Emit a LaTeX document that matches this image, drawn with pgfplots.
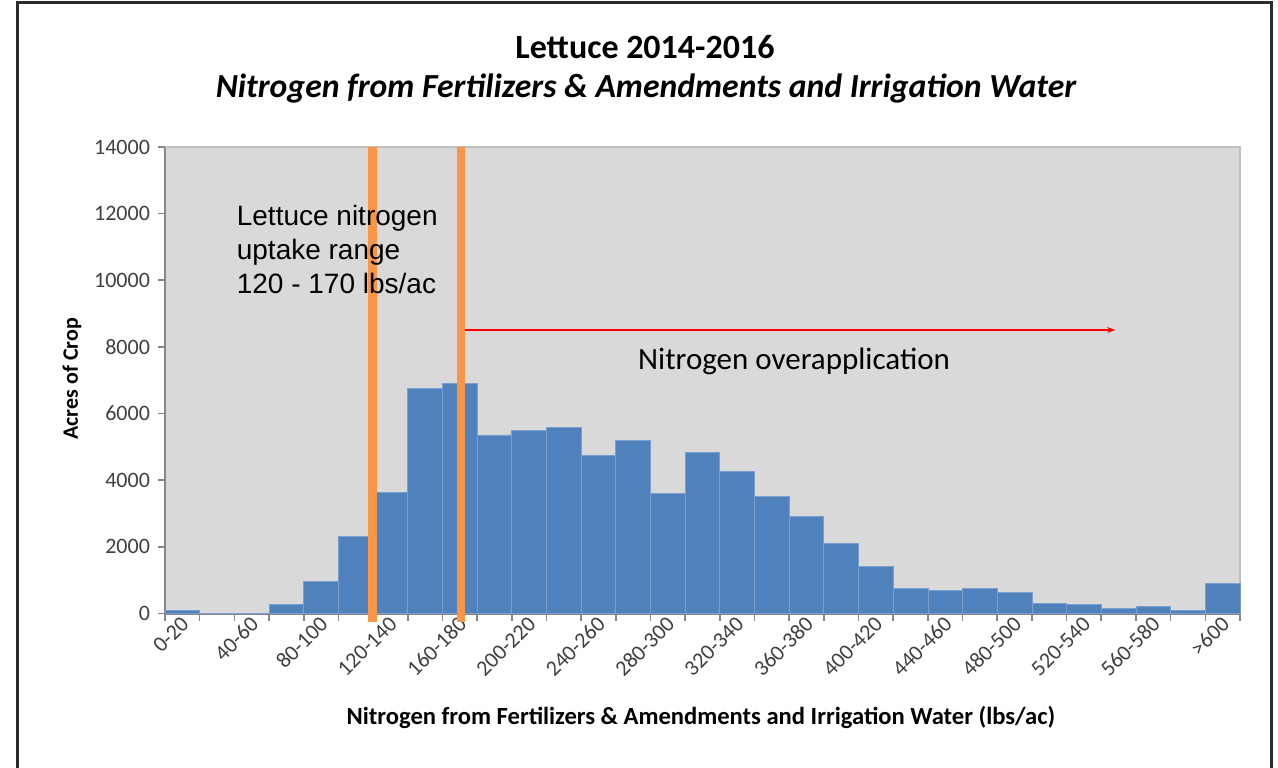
\documentclass[border=0pt]{standalone}
\usepackage{pgfplots}
\pgfplotsset{compat=1.18}
\usepackage{pgfplotstable}
\usetikzlibrary{arrows.meta}
\usepackage{fontspec}
\setmainfont{Carlito}
\newfontfamily\arialfont{Liberation Sans}
\definecolor{barblue}{HTML}{4F81BD}
\definecolor{baredge}{HTML}{7A9FCF}
\definecolor{plotbg}{HTML}{D9D9D9}
\definecolor{plotborder}{HTML}{BFBFBF}
\definecolor{lineorange}{HTML}{F79646}
\definecolor{axisgray}{HTML}{868686}
\definecolor{ticktext}{HTML}{404040}
\definecolor{framegray}{HTML}{2B2B2B}

\pgfplotstableread{
x y
0 90
1 0
2 0
3 260
4 960
5 2325
6 3640
7 6760
8 6900
9 5360
10 5500
11 5580
12 4750
13 5190
14 3600
15 4840
16 4270
17 3510
18 2900
19 2100
20 1405
21 750
22 690
23 750
24 630
25 300
26 270
27 160
28 210
29 90
30 910
}\datatable

\begin{document}
\begin{tikzpicture}
\useasboundingbox (0,0) rectangle (639pt,383.5pt);
\fill[white] (0,0) rectangle (639pt,383.5pt);
\draw[framegray, line width=1.5pt] (8.5pt,-3pt) -- (8.5pt,382pt) -- (635.5pt,382pt) -- (635.5pt,-3pt);
\node[font=\fontsize{17}{20}\selectfont\bfseries] at (322.5pt,360pt) {Lettuce 2014-2016};
\node[font=\fontsize{16.85}{20}\selectfont\bfseries\itshape] at (323pt,339pt) {Nitrogen from Fertilizers \& Amendments and Irrigation Water};
\begin{axis}[
  at={(82.5pt,76.75pt)}, anchor=south west,
  scale only axis, width=537.5pt, height=233.25pt,
  xmin=-0.5, xmax=30.5, ymin=0, ymax=14000,
  clip=false,
  axis background/.style={fill=plotbg},
  axis x line*=bottom, axis y line*=left,
  axis line style={axisgray, line width=1pt},
  tick align=outside,
  tick style={axisgray, line width=0.8pt},
  major tick length=3.5pt, minor tick length=3.5pt,
  ytick={0,2000,...,14000},
  scaled y ticks=false,
  /pgf/number format/1000 sep={},
  /pgf/number format/assume math mode=true,
  yticklabel style={font=\fontsize{11}{13}\selectfont, color=ticktext, xshift=-0.5pt},
  xtick={0,2,...,30},
  xticklabels={0-20,40-60,80-100,120-140,160-180,200-220,240-260,280-300,320-340,360-380,400-420,440-460,480-500,520-540,560-580,>600},
  major x tick style={draw=none},
  minor xtick={-0.5,0.5,...,30.5},
  xticklabel style={rotate=45, anchor=east, font=\fontsize{11}{13}\selectfont, color=ticktext, xshift=4.5pt, yshift=-1pt},
  xlabel={Nitrogen from Fertilizers \& Amendments and Irrigation Water (lbs/ac)},
  xlabel style={at={(axis description cs:0.4986,-0.222)}, anchor=center, font=\fontsize{12.3}{14}\selectfont\bfseries},
  ylabel={Acres of Crop},
  ylabel style={at={(axis description cs:-0.0865,0.503)}, anchor=center, font=\fontsize{11}{13}\selectfont\bfseries},
]
\draw[plotborder, line width=1pt] (rel axis cs:0,1) -- (rel axis cs:1,1) -- (rel axis cs:1,0);
\addplot[ybar, bar width=1, fill=barblue, draw=baredge, line width=0.4pt] table[x=x,y=y]{\datatable};
\addplot[lineorange, line width=4.3pt, no marks] coordinates {(5.49,-240) (5.49,14000)};
\addplot[lineorange, line width=4.3pt, no marks] coordinates {(8.03,-240) (8.03,14000)};
\draw[red, line width=0.75pt, -{Stealth[length=4pt,width=3pt]}] (axis cs:8.15,8508) -- (axis cs:26.9,8508);
\node[font=\fontsize{15.5}{18}\selectfont] at (axis cs:17.64,7557) {Nitrogen overapplication};
\node[font=\arialfont\fontsize{14}{17}\selectfont, align=left, anchor=north west, inner sep=0pt] at (axis cs:1.56,12260) {Lettuce nitrogen\\uptake range\\120 - 170 lbs/ac};
\end{axis}
\end{tikzpicture}
\end{document}
